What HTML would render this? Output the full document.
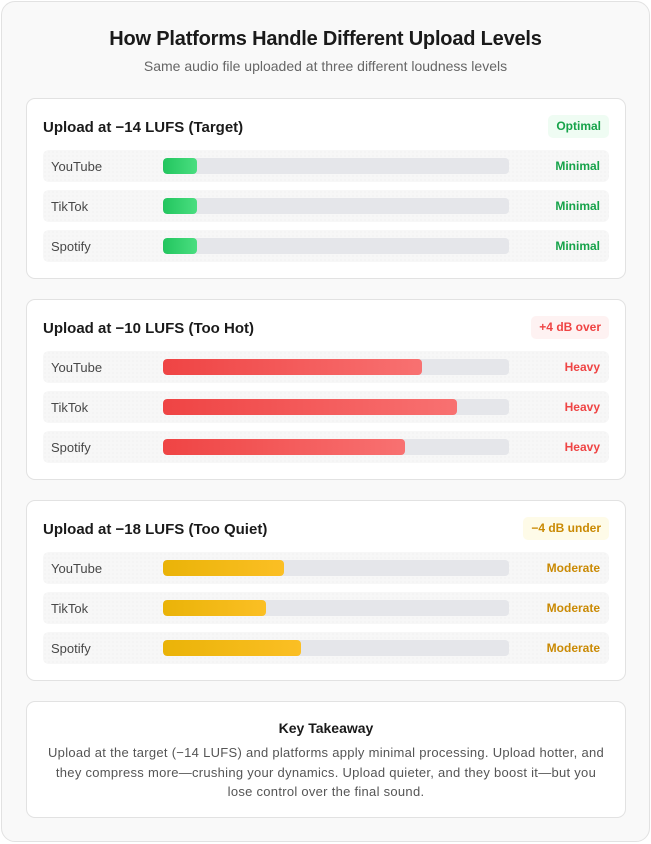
<!DOCTYPE html>
<html>
<head>
<meta charset="utf-8">
<style>
  html,body{margin:0;padding:0;}
  body{width:651px;height:844px;background:#ffffff;position:relative;overflow:hidden;
    font-family:"Liberation Sans", Arial, sans-serif;}
  .wrap{position:absolute;left:1px;top:1px;width:647px;height:839px;border:1px solid #e2e2e2;
    border-radius:14px;background:#f9f9f9;}
  .title{position:absolute;left:0;top:27px;width:651px;text-align:center;font-size:20px;font-weight:bold;
    color:#1a1a1a;line-height:24px;letter-spacing:-0.2px;}
  .sub{position:absolute;left:0;top:57px;width:651px;text-align:center;font-size:14px;color:#666;line-height:18px;}
  .card{position:absolute;left:26px;width:598px;height:179px;background:#fff;border:1px solid #e2e2e2;border-radius:9px;}
  .ch{position:absolute;left:16px;top:20px;font-size:15px;font-weight:bold;color:#1a1a1a;line-height:18px;}
  .badge{position:absolute;right:16px;top:16px;height:23px;line-height:23px;padding:0 8px;border-radius:5px;
    font-size:12px;font-weight:bold;}
  .row{position:absolute;left:16px;width:566px;height:32px;border-radius:6px;
    background-color:#f7f7f7;
    background-image:radial-gradient(circle, #ececec 0.6px, transparent 0.8px);
    background-size:4px 4px;}
  .lab{position:absolute;left:8px;top:1px;line-height:32px;font-size:13px;color:#484848;}
  .track{position:absolute;left:120px;top:8px;width:346px;height:16px;border-radius:4px;background:#e5e6ea;overflow:hidden;}
  .fill{position:absolute;left:0;top:0;height:16px;border-radius:4px;}
  .g{background:linear-gradient(90deg,#22c55e,#4ade80);}
  .r{background:linear-gradient(90deg,#ef4444,#f87171);}
  .y{background:linear-gradient(90deg,#eab308,#fbbf24);}
  .val{position:absolute;right:9px;top:0;line-height:32px;font-size:12px;font-weight:bold;}
  .key{position:absolute;left:26px;top:701px;width:598px;height:115px;background:#fff;border:1px solid #e2e2e2;border-radius:9px;}
  .kt{position:absolute;left:0;top:17px;width:598px;text-align:center;font-size:14px;font-weight:bold;color:#1a1a1a;line-height:18px;}
  .kp{position:absolute;left:19px;top:41px;width:560px;text-align:center;font-size:13px;color:#555;line-height:19.5px;letter-spacing:0.28px;}
</style>
</head>
<body>
<div class="wrap"></div>
<div class="title">How Platforms Handle Different Upload Levels</div>
<div class="sub">Same audio file uploaded at three different loudness levels</div>

<div class="card" style="top:98px;">
  <div class="ch">Upload at −14 LUFS (Target)</div>
  <div class="badge" style="background:#effcf3;color:#16a34a;">Optimal</div>
  <div class="row" style="top:51px;"><div class="lab">YouTube</div><div class="track"><div class="fill g" style="width:34px;"></div></div><div class="val" style="color:#16a34a;">Minimal</div></div>
  <div class="row" style="top:91px;"><div class="lab">TikTok</div><div class="track"><div class="fill g" style="width:34px;"></div></div><div class="val" style="color:#16a34a;">Minimal</div></div>
  <div class="row" style="top:131px;"><div class="lab">Spotify</div><div class="track"><div class="fill g" style="width:34px;"></div></div><div class="val" style="color:#16a34a;">Minimal</div></div>
</div>

<div class="card" style="top:299px;">
  <div class="ch">Upload at −10 LUFS (Too Hot)</div>
  <div class="badge" style="background:#fef2f2;color:#ef4444;">+4 dB over</div>
  <div class="row" style="top:51px;"><div class="lab">YouTube</div><div class="track"><div class="fill r" style="width:259px;"></div></div><div class="val" style="color:#ef4444;">Heavy</div></div>
  <div class="row" style="top:91px;"><div class="lab">TikTok</div><div class="track"><div class="fill r" style="width:294px;"></div></div><div class="val" style="color:#ef4444;">Heavy</div></div>
  <div class="row" style="top:131px;"><div class="lab">Spotify</div><div class="track"><div class="fill r" style="width:242px;"></div></div><div class="val" style="color:#ef4444;">Heavy</div></div>
</div>

<div class="card" style="top:500px;">
  <div class="ch">Upload at −18 LUFS (Too Quiet)</div>
  <div class="badge" style="background:#fefbe8;color:#ca8a04;">−4 dB under</div>
  <div class="row" style="top:51px;"><div class="lab">YouTube</div><div class="track"><div class="fill y" style="width:121px;"></div></div><div class="val" style="color:#ca8a04;">Moderate</div></div>
  <div class="row" style="top:91px;"><div class="lab">TikTok</div><div class="track"><div class="fill y" style="width:103px;"></div></div><div class="val" style="color:#ca8a04;">Moderate</div></div>
  <div class="row" style="top:131px;"><div class="lab">Spotify</div><div class="track"><div class="fill y" style="width:138px;"></div></div><div class="val" style="color:#ca8a04;">Moderate</div></div>
</div>

<div class="key">
  <div class="kt">Key Takeaway</div>
  <div class="kp">Upload at the target (−14 LUFS) and platforms apply minimal processing. Upload hotter, and they compress more—crushing your dynamics. Upload quieter, and they boost it—but you lose control over the final sound.</div>
</div>
</body>
</html>
